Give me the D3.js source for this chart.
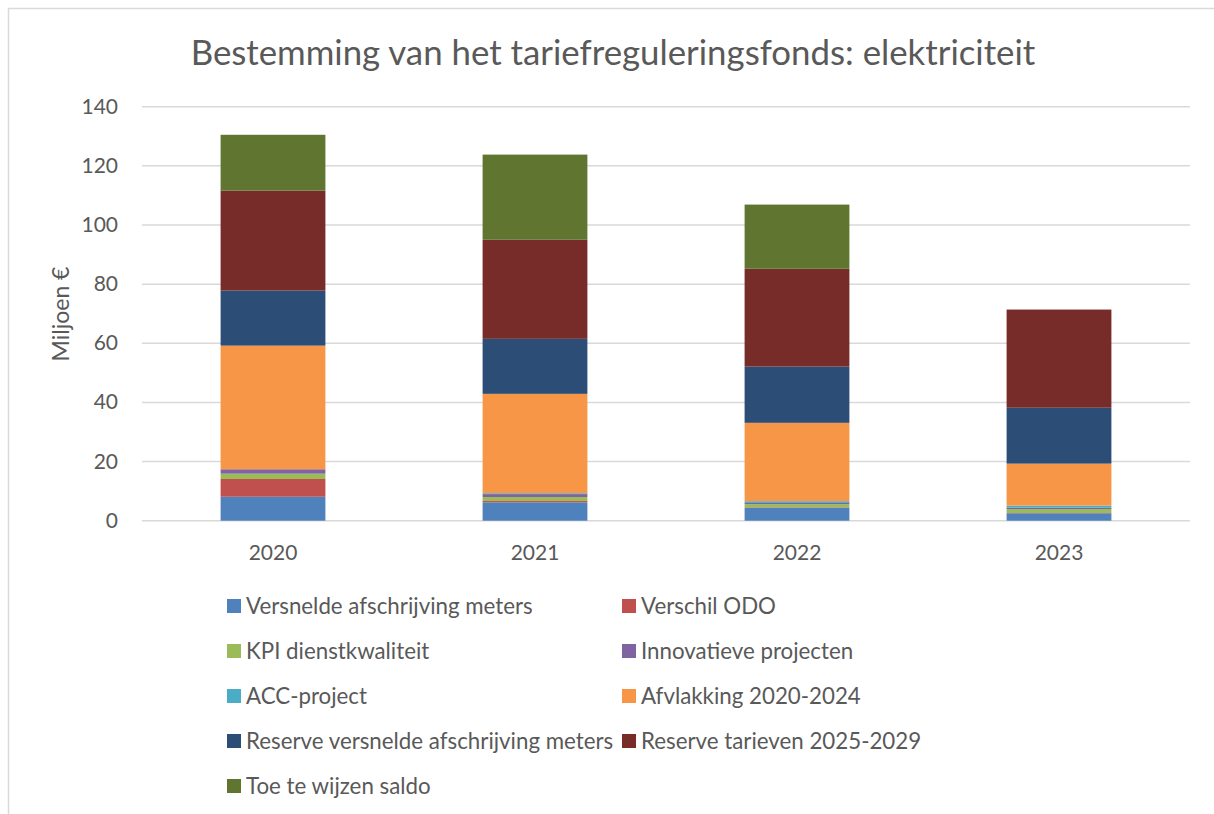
<!DOCTYPE html>
<html>
<head>
<meta charset="utf-8">
<script src="https://cdn.jsdelivr.net/npm/d3@7"></script>
<style>
  body { margin: 0; background: #fff; }
  text { font-family: Lato, "Open Sans", sans-serif; fill: #595959; }
</style>
</head>
<body>
<div id="chart"></div>
<script>
// Gegevens (miljoen €)
const jaren = ["2020", "2021", "2022", "2023"];
const reeksen = [
  "Versnelde afschrijving meters", "Verschil ODO", "KPI dienstkwaliteit",
  "Innovatieve projecten", "ACC-project", "Afvlakking 2020-2024",
  "Reserve versnelde afschrijving meters", "Reserve tarieven 2025-2029", "Toe te wijzen saldo"
];
const versneldeAfschrijving = [8.1, 6.2, 4.3, 2.5];
const verschilODO = [6.0, 0.45, 0.2, 0.1];
const kpiDienstkwaliteit = [1.8, 1.35, 1.1, 1.35];
const innovatieveProjecten = [1.5, 1.0, 0.4, 0.45];
const accProject = [0, 0.3, 0.6, 0.7];
const afvlakking = [41.8, 33.6, 26.5, 14.2];
const reserveMeters = [18.6, 18.6, 19.0, 18.9];
const reserveTarieven = [33.8, 33.5, 33.1, 33.2];
const toeTeWijzen = [18.9, 28.8, 21.7, 0];
const yTicks = [0, 20, 40, 60, 80, 100, 120, 140];

const kleuren = ["#4F81BD", "#C0504D", "#9BBB59", "#8064A2", "#4BACC6",
                 "#F79646", "#2C4D75", "#772C2A", "#5F7530"];

const alleWaarden = [versneldeAfschrijving, verschilODO, kpiDienstkwaliteit,
  innovatieveProjecten, accProject, afvlakking, reserveMeters, reserveTarieven, toeTeWijzen];

const data = jaren.map((j, i) => {
  const rij = { jaar: j };
  reeksen.forEach((r, k) => rij[r] = alleWaarden[k][i]);
  return rij;
});

const W = 1214, H = 814;
const svg = d3.select("#chart").append("svg")
  .attr("width", W).attr("height", H);

// kader
svg.append("rect")
  .attr("x", 8.5).attr("y", 8.5)
  .attr("width", W + 20).attr("height", H + 20)
  .attr("fill", "none").attr("stroke", "#D9D9D9").attr("stroke-width", 1.5);

const x = d3.scaleBand().domain(jaren).range([142, 1190])
  .paddingInner(0.6).paddingOuter(0.3);
const y = d3.scaleLinear().domain([0, 140]).range([520.7, 106.7]);

// rasterlijnen
svg.append("g")
  .selectAll("line")
  .data(yTicks)
  .join("line")
  .attr("x1", 142).attr("x2", 1190)
  .attr("y1", d => y(d)).attr("y2", d => y(d))
  .attr("stroke", "#D9D9D9").attr("stroke-width", 1.5);

svg.append("g")
  .selectAll("text")
  .data(yTicks)
  .join("text")
  .attr("x", 118).attr("y", d => y(d) + 7)
  .attr("text-anchor", "end")
  .attr("font-size", "21px")
  .text(d => d);

const stack = d3.stack().keys(reeksen)(data);

svg.append("g")
  .selectAll("g")
  .data(stack)
  .join("g")
  .attr("fill", (d, i) => kleuren[i])
  .selectAll("rect")
  .data(d => d)
  .join("rect")
  .attr("x", d => x(d.data.jaar))
  .attr("y", d => y(d[1]))
  .attr("width", x.bandwidth())
  .attr("height", d => y(d[0]) - y(d[1]));

svg.append("g")
  .selectAll("text")
  .data(jaren)
  .join("text")
  .attr("x", d => x(d) + x.bandwidth() / 2)
  .attr("y", 560)
  .attr("text-anchor", "middle")
  .attr("font-size", "21px")
  .text(d => d);

// titel
svg.append("text")
  .attr("x", 613).attr("y", 65)
  .attr("text-anchor", "middle")
  .attr("font-size", "34.8px")
  .text("Bestemming van het tariefreguleringsfonds: elektriciteit");

svg.append("text")
  .attr("transform", "translate(69,314) rotate(-90)")
  .attr("text-anchor", "middle")
  .attr("font-size", "23px")
  .text("Miljoen €");

// legenda
const legenda = svg.append("g")
  .selectAll("g")
  .data(reeksen)
  .join("g")
  .attr("transform", (d, i) => `translate(${i % 2 === 0 ? 227 : 622},${599 + Math.floor(i / 2) * 45})`);

legenda.append("rect")
  .attr("width", 14).attr("height", 14)
  .attr("fill", (d, i) => kleuren[i]);

legenda.append("text")
  .attr("x", 19).attr("y", 14.5)
  .attr("font-size", "22.3px")
  .text(d => d);
</script>
</body>
</html>
